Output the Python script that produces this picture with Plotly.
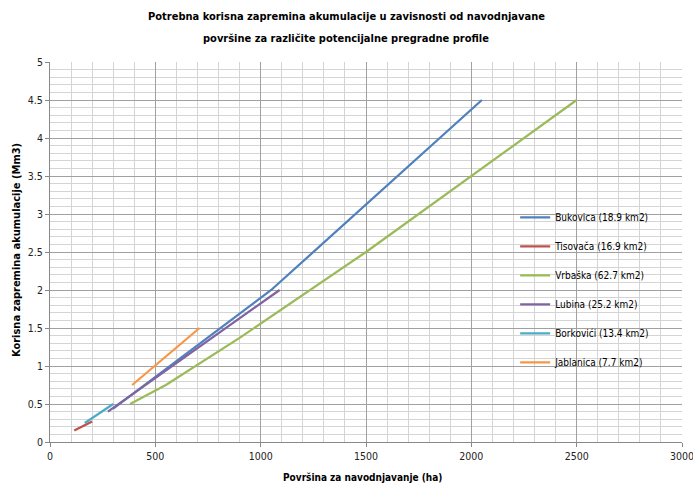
import plotly.graph_objects as go

# ---- data ----
series_names = ["Bukovica (18.9 km2)", "Tisovača (16.9 km2)", "Vrbaška (62.7 km2)",
                "Lubina (25.2 km2)", "Borkovići (13.4 km2)", "Jablanica (7.7 km2)"]
bukovica_x = [300, 1050, 2050]
bukovica_y = [0.44, 2.0, 4.5]
tisovaca_x = [115, 200]
tisovaca_y = [0.15, 0.27]
vrbaska_x = [380, 550, 900, 1500, 2500]
vrbaska_y = [0.5, 0.75, 1.37, 2.5, 4.5]
lubina_x = [275, 1090]
lubina_y = [0.4, 2.0]
borkovici_x = [165, 300]
borkovici_y = [0.25, 0.5]
jablanica_x = [390, 710]
jablanica_y = [0.75, 1.5]

xs = [bukovica_x, tisovaca_x, vrbaska_x, lubina_x, borkovici_x, jablanica_x]
ys = [bukovica_y, tisovaca_y, vrbaska_y, lubina_y, borkovici_y, jablanica_y]
colors = ["#4F81BD", "#C0504D", "#9BBB59", "#8064A2", "#4BACC6", "#F79646"]

x_ticks = [0, 500, 1000, 1500, 2000, 2500, 3000]
y_ticks = [0, 0.5, 1, 1.5, 2, 2.5, 3, 3.5, 4, 4.5, 5]

title_lines = ["Potrebna korisna zapremina akumulacije u zavisnosti od navodnjavane",
               "površine za različite potencijalne pregradne profile"]
x_title = "Površina za navodnjavanje (ha)"
y_title = "Korisna zapremina akumulacije (Mm3)"

FONT = "Liberation Sans Narrow, DejaVu Sans Condensed, Arial Narrow, sans-serif"

fig = go.Figure()
for i, (name, x, y, c) in enumerate(zip(series_names, xs, ys, colors)):
    fig.add_trace(go.Scatter(x=x, y=y, mode="lines", name=name,
                             legendgroup=f"g{i}",
                             line=dict(color=c, width=2.25)))

annotations = [
    dict(text=f"<b>{title_lines[0]}</b>", xref="paper", yref="paper",
         x=0.469, y=1.121, xanchor="center", yanchor="middle", showarrow=False,
         font=dict(family=FONT, size=11, color="#000000")),
    dict(text=f"<b>{title_lines[1]}</b>", xref="paper", yref="paper",
         x=0.469, y=1.061, xanchor="center", yanchor="middle", showarrow=False,
         font=dict(family=FONT, size=11, color="#000000")),
    dict(text=f"<b>{x_title}</b>", xref="paper", yref="paper",
         x=0.494, y=-0.0947, xanchor="center", yanchor="middle", showarrow=False,
         font=dict(family=FONT, size=10, color="#000000")),
    dict(text=f"<b>{y_title}</b>", xref="paper", yref="paper", textangle=-90,
         x=-0.0538, y=0.505, xanchor="center", yanchor="middle", showarrow=False,
         font=dict(family=FONT, size=11, color="#000000")),
]

fig.update_layout(
    width=693, height=487,
    margin=dict(l=50, r=11, t=62, b=45),
    paper_bgcolor="white", plot_bgcolor="white",
    font=dict(family=FONT, size=11, color="#000000"),
    showlegend=True,
    legend=dict(x=0.736, y=0.629, xanchor="left", yanchor="top",
                bgcolor="rgba(0,0,0,0)", borderwidth=0,
                font=dict(family=FONT, size=10, color="#000000"),
                tracegroupgap=10, itemwidth=30),
    shapes=[dict(type="rect", xref="paper", yref="paper",
                 x0=0.702, x1=1.0, y0=0.163, y1=0.645,
                 fillcolor="white", line=dict(width=0), layer="between")],
    annotations=annotations,
)

fig.update_xaxes(
    range=[0, 3000], tickvals=x_ticks, ticks="outside", ticklen=4,
    tickcolor="#888888", showline=True, linecolor="#888888", linewidth=1,
    showgrid=True, gridcolor="#a0a0a0", gridwidth=1, zeroline=False,
    minor=dict(dtick=100, showgrid=True, gridcolor="#d4d4d4", gridwidth=1),
    tickfont=dict(family=FONT, size=10.5, color="#222222"),
    ticklabeloverflow="allow", automargin=False,
)
fig.update_yaxes(
    range=[0, 5], tickvals=y_ticks, ticks="outside", ticklen=4,
    tickcolor="#888888", showline=True, linecolor="#888888", linewidth=1,
    showgrid=True, gridcolor="#a0a0a0", gridwidth=1, zeroline=False,
    minor=dict(dtick=0.1, showgrid=True, gridcolor="#d4d4d4", gridwidth=1),
    tickfont=dict(family=FONT, size=10.5, color="#222222"),
    automargin=False,
)

fig.write_html("out.html", config={"displayModeBar": False},
               post_script="document.body.style.margin='0px';")
